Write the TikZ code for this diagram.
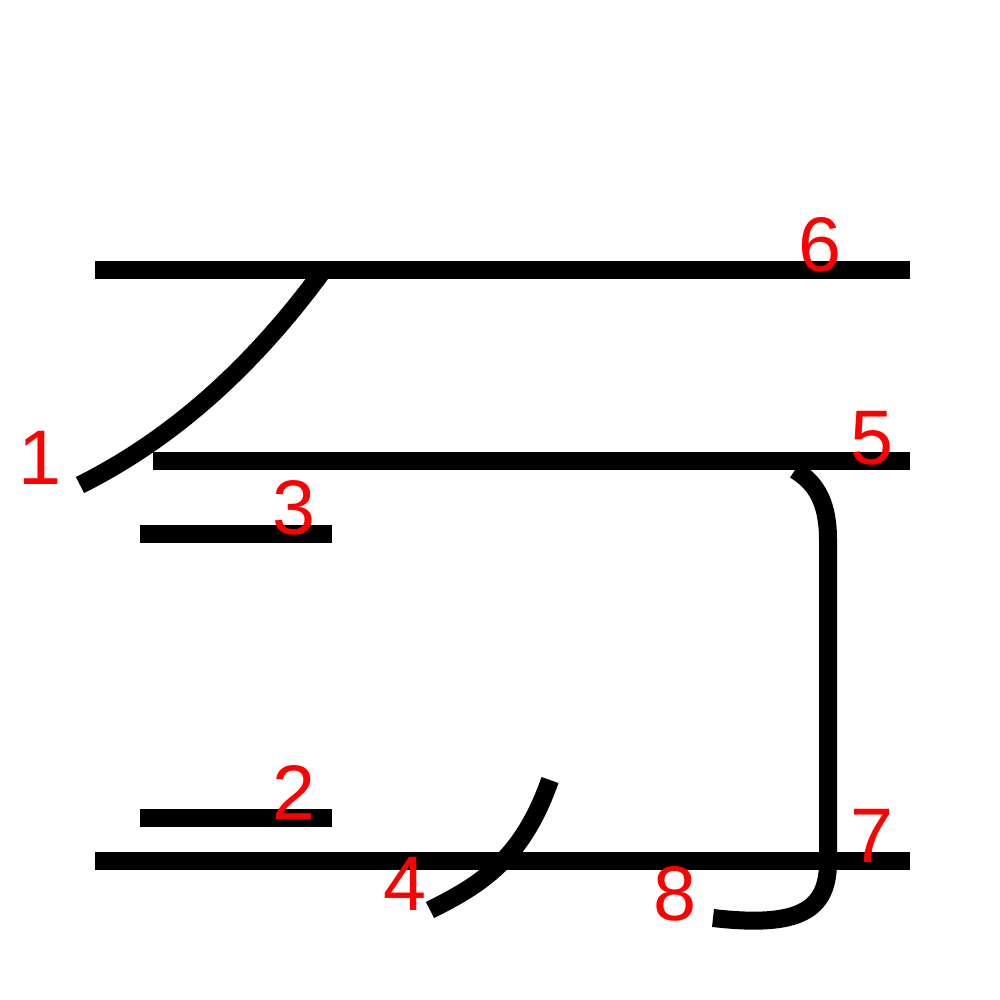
\documentclass[tikz,border=0pt]{standalone}
\usepackage{fontspec}
\setmainfont{Liberation Sans}
\begin{document}
\begin{tikzpicture}[x=0.01cm,y=-0.01cm,
  stroke/.style={line width=0.18cm, line cap=butt, black},
  lbl/.style={text=red, font=\fontsize{22}{22}\selectfont, inner sep=0pt}]
\useasboundingbox[fill=white] (0,0) rectangle (1000,1000);
% strokes
\draw[stroke] (95,270) -- (910,270);
\draw[stroke] (322,272) .. controls (250,370) and (170,440) .. (80,485);
\draw[stroke] (153,461) -- (910,461);
\draw[stroke] (140,534) -- (332,534);
\draw[stroke] (140,818) -- (332,818);
\draw[stroke] (95,861) -- (910,861);
\draw[stroke] (550,780) .. controls (522,860) and (480,885) .. (430,910);
\draw[stroke] (795,470) .. controls (818,484) and (828,505) .. (828,540) -- (828,862) .. controls (828,910) and (800,928) .. (713,918);
% labels
\node[lbl] (n1) at (40,458) {1};
\node[lbl] (n2) at (294,792) {2};
\node[lbl] (n3) at (294,508) {3};
\node[lbl] (n4) at (405,884) {4};
\node[lbl] (n5) at (872,438) {5};
\node[lbl] (n6) at (820,245) {6};
\node[lbl] (n7) at (872,836) {7};
\node[lbl] (n8) at (675,894) {8};
\end{tikzpicture}
\end{document}
